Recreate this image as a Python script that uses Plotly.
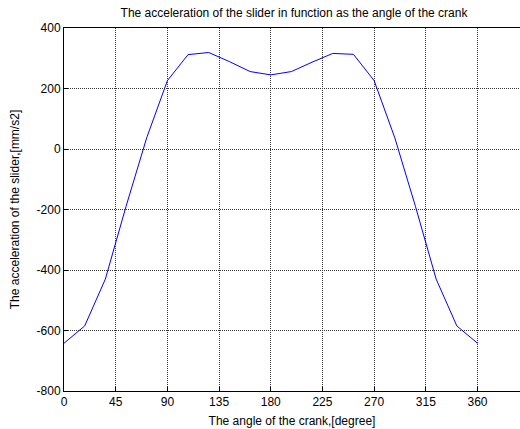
import plotly.graph_objects as go

angle = [0, 18, 36, 54, 72, 90, 108, 126, 144, 162, 180, 198, 216, 234, 252, 270, 288, 306, 324, 342, 360]
accel = [-642, -585, -430, -190, 37, 226, 312, 319, 289, 256, 245, 256, 287, 316, 313, 226, 37, -190, -430, -585, -642]
xticks = [0, 45, 90, 135, 180, 225, 270, 315, 360]
yticks = [-800, -600, -400, -200, 0, 200, 400]

fig = go.Figure()
fig.add_trace(go.Scatter(x=angle, y=accel, mode="lines",
                         line=dict(color="#0000ff", width=1), showlegend=False))

font = dict(family="Liberation Sans, Arial, sans-serif", size=12, color="black")
fig.update_layout(
    width=520, height=429,
    margin=dict(l=64, r=0, t=28, b=38),
    paper_bgcolor="white", plot_bgcolor="white",
    font=font,
    title=dict(text="The acceleration of the slider in function as the angle of the crank",
               x=(64 + 524) / 2 / 520, xanchor="center", y=1 - 13 / 429, yanchor="middle",
               font=dict(size=12)),
    xaxis=dict(range=[0, 397], tickvals=xticks, ticktext=[str(v) for v in xticks],
               showgrid=True, gridcolor="#333333", griddash="1px,1px", gridwidth=1,
               showline=True, linecolor="black", linewidth=1, mirror=True,
               ticks="inside", ticklen=4, tickcolor="black", zeroline=False,
               title=dict(text="The angle of the crank,[degree]", standoff=8, font=dict(size=12))),
    yaxis=dict(range=[-800, 400], tickvals=yticks, ticktext=[str(v) for v in yticks],
               showgrid=True, gridcolor="#333333", griddash="1px,1px", gridwidth=1,
               showline=True, linecolor="black", linewidth=1,
               ticks="inside", ticklen=4, tickcolor="black", zeroline=False,
               title=dict(text="The acceleration of the slider,[mm/s2]", standoff=14, font=dict(size=12))),
)
fig.write_html("out.html")
